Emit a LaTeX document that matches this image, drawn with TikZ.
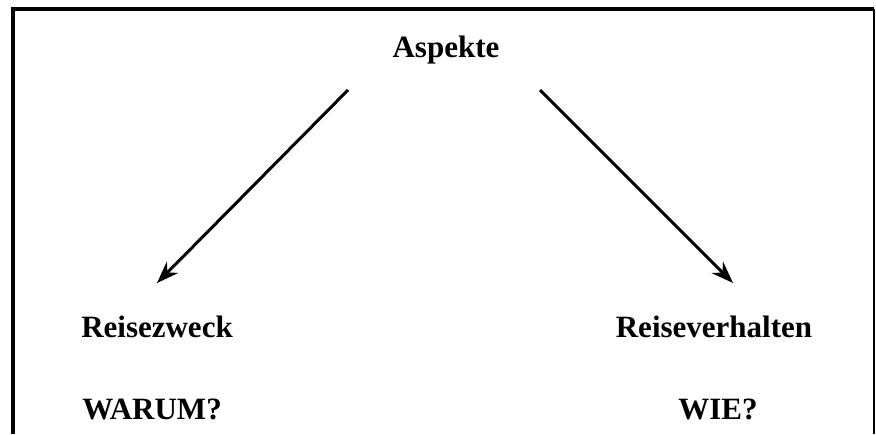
\documentclass[tikz,border=0pt]{standalone}
\usepackage{fontspec}
\setmainfont{Liberation Serif}
\usetikzlibrary{arrows.meta}
\begin{document}
\begin{tikzpicture}[x=1pt,y=-1pt,font=\fontsize{31}{36}\selectfont\bfseries]
		\useasboundingbox (0,0) rectangle (876,434);
		\draw[line width=4pt] (13,434) -- (13,9) -- (874,9);
		\draw[line width=1.5pt] (874,9) -- (874,434);
		\node[anchor=base] (asp) at (446,57) {Aspekte};
		\node[anchor=base] (zweck) at (157,337) {Reisezweck};
		\node[anchor=base] (verh) at (714,337) {Reiseverhalten};
		\node[anchor=base] (warum) at (152,419) {WARUM?};
		\node[anchor=base] (wie) at (718,419) {WIE?};
		\coordinate (a1) at (348,90);
		\coordinate (a2) at (540,90);
		\coordinate (z1) at (157,283);
		\coordinate (v1) at (733,283);
		\draw[line width=3pt, -{Stealth[length=22pt,width=16pt]}] (a1) -- (z1);
		\draw[line width=3pt, -{Stealth[length=22pt,width=16pt]}] (a2) -- (v1);
	\end{tikzpicture}
\end{document}
